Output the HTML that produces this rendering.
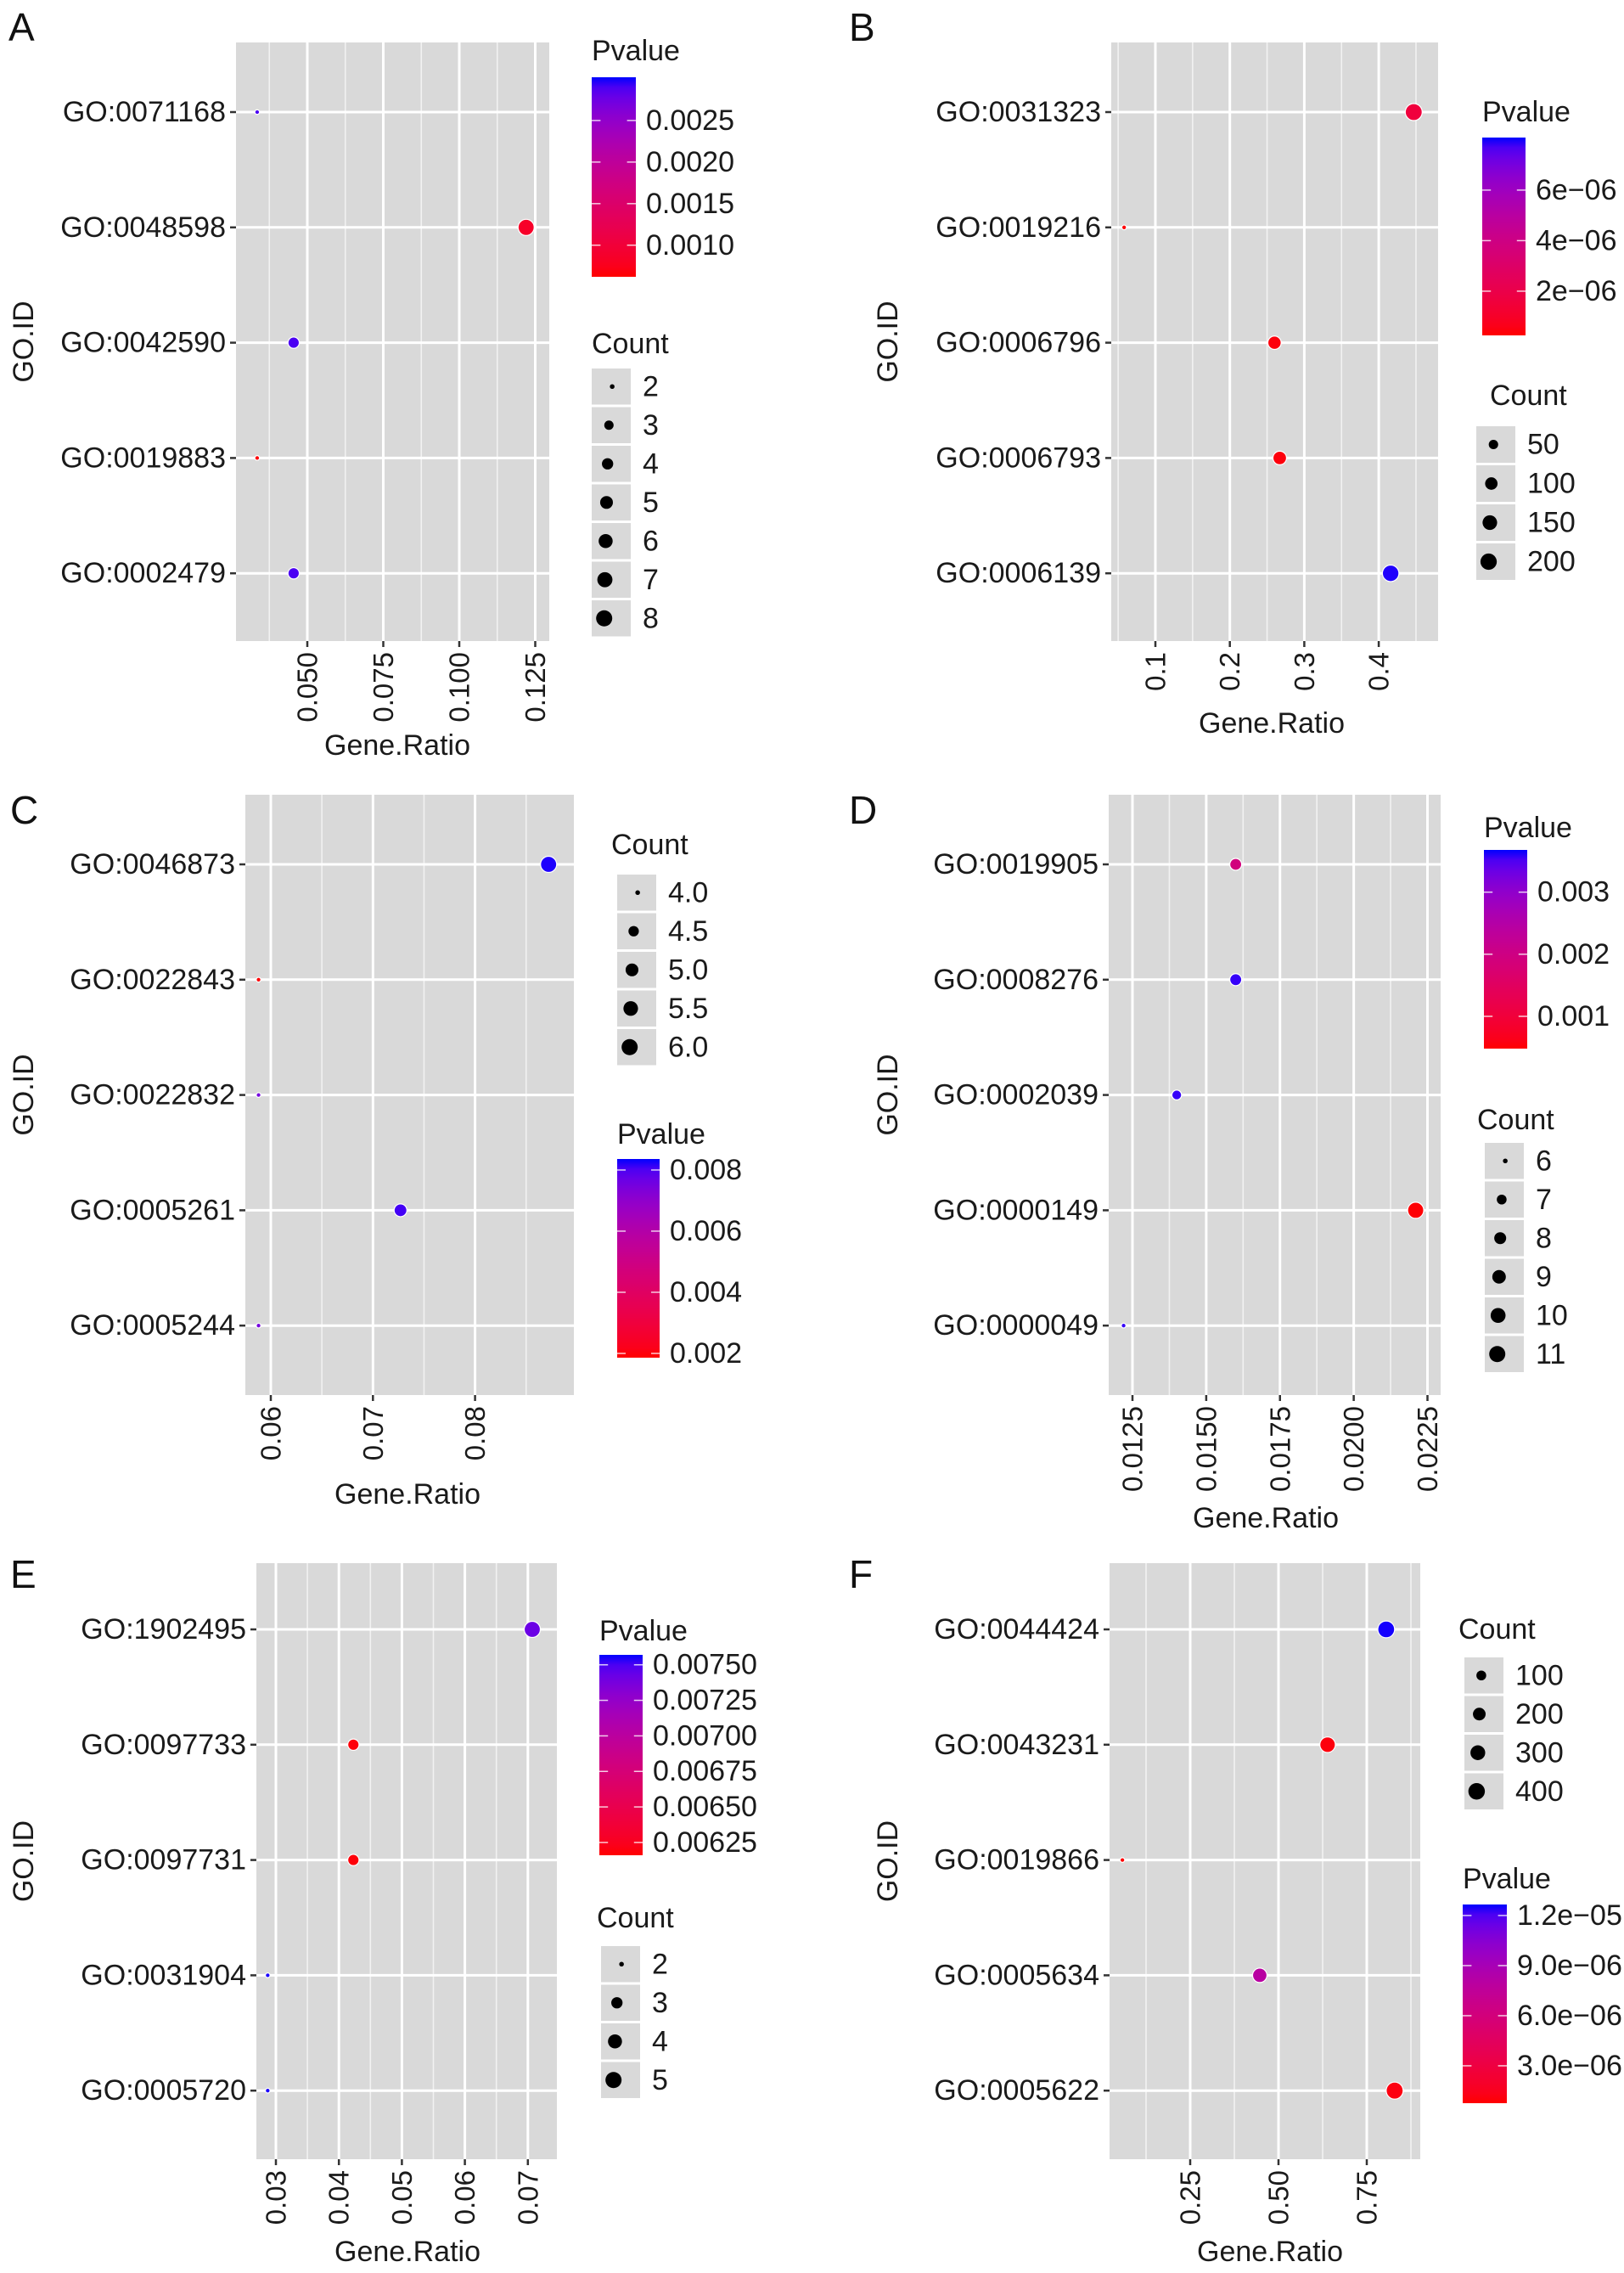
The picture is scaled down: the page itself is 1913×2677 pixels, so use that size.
<!DOCTYPE html>
<html><head><meta charset="utf-8">
<style>
html,body{margin:0;padding:0;background:#fff;}
svg{display:block;font-family:"Liberation Sans",Arial,sans-serif;}
</style></head>
<body>
<svg id="fig" width="1913" height="2677" viewBox="0 0 1913 2677" xmlns="http://www.w3.org/2000/svg"></svg>
<script>
// ---------- Panel A ----------
const A_ids = ["GO:0071168","GO:0048598","GO:0042590","GO:0019883","GO:0002479"];
const A_ratio = [0.0335,0.122,0.0455,0.0335,0.0455];
const A_count = [2,8,4,2,4];
const A_pval = [0.0029,0.00085,0.0029,0.00064,0.0029];
const A_xticks = [0.050,0.075,0.100,0.125];
const A_xtickLabels = ["0.050","0.075","0.100","0.125"];
const A_pticks = [0.0025,0.0020,0.0015,0.0010];
const A_ptickLabels = ["0.0025","0.0020","0.0015","0.0010"];
const A_cticks = [2,3,4,5,6,7,8];
const A_ctickLabels = ["2","3","4","5","6","7","8"];
// ---------- Panel B ----------
const B_ids = ["GO:0031323","GO:0019216","GO:0006796","GO:0006793","GO:0006139"];
const B_ratio = [0.447,0.058,0.260,0.267,0.416];
const B_count = [220,20,120,125,205];
const B_pval = [1.6e-6,0.3e-6,0.4e-6,0.4e-6,8.0e-6];
const B_xticks = [0.1,0.2,0.3,0.4];
const B_xtickLabels = ["0.1","0.2","0.3","0.4"];
const B_pticks = [6e-6,4e-6,2e-6];
const B_ptickLabels = ["6e\u221206","4e\u221206","2e\u221206"];
const B_cticks = [50,100,150,200];
const B_ctickLabels = ["50","100","150","200"];
// ---------- Panel C ----------
const C_ids = ["GO:0046873","GO:0022843","GO:0022832","GO:0005261","GO:0005244"];
const C_ratio = [0.0872,0.0588,0.0588,0.0727,0.0588];
const C_count = [6,4,4,5,4];
const C_pval = [0.0083,0.0019,0.0075,0.0081,0.0075];
const C_xticks = [0.06,0.07,0.08];
const C_xtickLabels = ["0.06","0.07","0.08"];
const C_pticks = [0.008,0.006,0.004,0.002];
const C_ptickLabels = ["0.008","0.006","0.004","0.002"];
const C_cticks = [4.0,4.5,5.0,5.5,6.0];
const C_ctickLabels = ["4.0","4.5","5.0","5.5","6.0"];
// ---------- Panel D ----------
const D_ids = ["GO:0019905","GO:0008276","GO:0002039","GO:0000149","GO:0000049"];
const D_ratio = [0.0160,0.0160,0.0140,0.0221,0.0122];
const D_count = [8,8,7,11,6];
const D_pval = [0.0019,0.0036,0.0036,0.0005,0.0036];
const D_xticks = [0.0125,0.0150,0.0175,0.0200,0.0225];
const D_xtickLabels = ["0.0125","0.0150","0.0175","0.0200","0.0225"];
const D_pticks = [0.003,0.002,0.001];
const D_ptickLabels = ["0.003","0.002","0.001"];
const D_cticks = [6,7,8,9,10,11];
const D_ctickLabels = ["6","7","8","9","10","11"];
// ---------- Panel E ----------
const E_ids = ["GO:1902495","GO:0097733","GO:0097731","GO:0031904","GO:0005720"];
const E_ratio = [0.0707,0.0423,0.0423,0.0287,0.0287];
const E_count = [5,3,3,2,2];
const E_pval = [0.00742,0.00618,0.00618,0.00756,0.00756];
const E_xticks = [0.03,0.04,0.05,0.06,0.07];
const E_xtickLabels = ["0.03","0.04","0.05","0.06","0.07"];
const E_pticks = [0.00750,0.00725,0.00700,0.00675,0.00650,0.00625];
const E_ptickLabels = ["0.00750","0.00725","0.00700","0.00675","0.00650","0.00625"];
const E_cticks = [2,3,4,5];
const E_ctickLabels = ["2","3","4","5"];
// ---------- Panel F ----------
const F_ids = ["GO:0044424","GO:0043231","GO:0019866","GO:0005634","GO:0005622"];
const F_ratio = [0.805,0.639,0.058,0.447,0.829];
const F_count = [420,340,30,280,430];
const F_pval = [1.26e-5,1.0e-6,0.8e-6,8.0e-6,1.1e-6];
const F_xticks = [0.25,0.50,0.75];
const F_xtickLabels = ["0.25","0.50","0.75"];
const F_pticks = [1.2e-5,9e-6,6e-6,3e-6];
const F_ptickLabels = ["1.2e\u221205","9.0e\u221206","6.0e\u221206","3.0e\u221206"];
const F_cticks = [100,200,300,400];
const F_ctickLabels = ["100","200","300","400"];

const NS="http://www.w3.org/2000/svg";
const svg=document.getElementById('fig');
function el(tag,attrs,parent,text){
  const e=document.createElementNS(NS,tag);
  for(const k in attrs) e.setAttribute(k,attrs[k]);
  if(text!==undefined) e.textContent=text;
  (parent||svg).appendChild(e);
  return e;
}
function srgb2lin(c){c/=255;return c<=0.04045?c/12.92:Math.pow((c+0.055)/1.055,2.4);}
function lin2srgb(c){c=c<=0.0031308?12.92*c:1.055*Math.pow(c,1/2.4)-0.055;return Math.round(Math.max(0,Math.min(1,c))*255);}
function rgb2lab(r,g,b){r=srgb2lin(r);g=srgb2lin(g);b=srgb2lin(b);
  let x=(0.4124*r+0.3576*g+0.1805*b)/0.95047,y=(0.2126*r+0.7152*g+0.0722*b),z=(0.0193*r+0.1192*g+0.9505*b)/1.08883;
  const f=t=>t>0.008856?Math.cbrt(t):7.787*t+16/116;x=f(x);y=f(y);z=f(z);
  return [116*y-16,500*(x-y),200*(y-z)];}
function lab2rgb(L,a,b){let y=(L+16)/116,x=a/500+y,z=y-b/200;
  const fi=t=>t*t*t>0.008856?t*t*t:(t-16/116)/7.787;x=fi(x)*0.95047;y=fi(y);z=fi(z)*1.08883;
  const r=3.2406*x-1.5372*y-0.4986*z,g=-0.9689*x+1.8758*y+0.0415*z,bb=0.0557*x-0.2040*y+1.0570*z;
  return `rgb(${lin2srgb(r)},${lin2srgb(g)},${lin2srgb(bb)})`;}
const LR=rgb2lab(255,0,0),LB=rgb2lab(0,0,255);
function colorAt(t){t=Math.max(0,Math.min(1,t));return lab2rgb(LR[0]+(LB[0]-LR[0])*t,LR[1]+(LB[1]-LR[1])*t,LR[2]+(LB[2]-LR[2])*t);}

let gid=0;
function panel(cfg){
  const g=el('g',{});
  
  
  const {L,R,T,B}=cfg.box;
  const xs=v=>cfg.x0px+(v-cfg.x0)*cfg.pxPerUnit;
  const ys=i=>cfg.rowTop+i*cfg.rowStep;
  const cmin=Math.min(...cfg.count), cmax=Math.max(...cfg.count);
  const pt=p=>(p-cfg.plim[0])/(cfg.plim[1]-cfg.plim[0]);
  const rad=c=>{const t=cmax>cmin?(c-cmin)/(cmax-cmin):1;return (cfg.dmin+(cfg.dmax-cfg.dmin)*Math.sqrt(Math.max(0,t)))/2;};
  const lt=el('text',{x:cfg.letterX,y:cfg.letterY,'font-size':46,fill:'#111'},g,cfg.letter);
  
  
  const bg=el('rect',{x:L,y:T,width:R-L,height:B-T,fill:'#d9d9d9'},g);
  
  
  const step=cfg.xticks[1]-cfg.xticks[0];
  for(let v=cfg.xticks[0]-step/2; xs(v)<R; v+=step){
    if(xs(v)>L){const m=el('line',{x1:xs(v),x2:xs(v),y1:T,y2:B,stroke:'#f2f2f2','stroke-width':1.6},g);
      
      }
  }
  cfg.xticks.forEach((v,i)=>{
    const x=xs(v);
    const gl=el('line',{x1:x,x2:x,y1:T,y2:B,stroke:'#fff','stroke-width':3},g);
    
    
    el('line',{x1:x,x2:x,y1:B,y2:B+7,stroke:'#333','stroke-width':2.5},g);
    const tl=el('text',{x:0,y:0,'font-size':33,fill:'#1a1a1a','text-anchor':'end','dominant-baseline':'central',transform:`translate(${x},${B+13}) rotate(-90)`},g,cfg.xtickLabels[i]);
    
    
  });
  cfg.ids.forEach((id,i)=>{
    const y=ys(i);
    const gl=el('line',{x1:L,x2:R,y1:y,y2:y,stroke:'#fff','stroke-width':3},g);
    
    
    el('line',{x1:L-7,x2:L,y1:y,y2:y,stroke:'#333','stroke-width':2.5},g);
    const yl=el('text',{x:L-12,y:y,'font-size':34,fill:'#1a1a1a','text-anchor':'end','dominant-baseline':'central'},g,id);
    
    
  });
  cfg.ids.forEach((id,i)=>{
    const r=rad(cfg.count[i]);
    const c=el('circle',{cx:xs(cfg.ratio[i]),cy:ys(i),r:r,fill:colorAt(pt(cfg.pval[i])),stroke:'#fff','stroke-width':1.2},g);
    
    
  });
  const xt=el('text',{x:cfg.xTitleX,y:cfg.xTitleY,'font-size':34,fill:'#1a1a1a','text-anchor':'middle','dominant-baseline':'central'},g,'Gene.Ratio');
  
  
  const ytY=(T+B)/2;
  const yt=el('text',{x:0,y:0,'font-size':34,fill:'#1a1a1a','text-anchor':'middle','dominant-baseline':'central',transform:`translate(${cfg.yTitleX},${ytY}) rotate(-90)`},g,'GO.ID');
  
  
  const pv=cfg.pLeg;
  const pg=el('g',{},g);
  
  
  const pttl=el('text',{x:pv.x,y:pv.titleY,'font-size':34,fill:'#1a1a1a','dominant-baseline':'central'},pg,'Pvalue');
  
  
  const id='grad'+(gid++);
  const defs=el('defs',{},pg);
  const lg=el('linearGradient',{id:id,x1:0,y1:1,x2:0,y2:0},defs);
  for(let k=0;k<=20;k++) el('stop',{offset:k/20,'stop-color':colorAt(k/20)},lg);
  const bar=el('rect',{x:pv.x,y:pv.top,width:pv.w,height:pv.bot-pv.top,fill:`url(#${id})`},pg);
  
  
  const cy=p=>pv.bot-pt(p)*(pv.bot-pv.top);
  cfg.pticks.forEach((p,i)=>{
    const y=cy(p);
    el('line',{x1:pv.x,x2:pv.x+pv.w/5,y1:y,y2:y,stroke:'#fff','stroke-width':1.5,opacity:0.8},pg);
    el('line',{x1:pv.x+pv.w*4/5,x2:pv.x+pv.w,y1:y,y2:y,stroke:'#fff','stroke-width':1.5,opacity:0.8},pg);
    const t=el('text',{x:pv.x+pv.w+12,y:y,'font-size':34,fill:'#1a1a1a','dominant-baseline':'central'},pg,cfg.ptickLabels[i]);
    
    
  });
  const cl=cfg.cLeg;
  const cg=el('g',{},g);
  
  
  const cttl=el('text',{x:cl.titleX,y:cl.titleY,'font-size':34,fill:'#1a1a1a','dominant-baseline':'central'},cg,'Count');
  
  
  cfg.cticks.forEach((c,i)=>{
    const ky=cl.top+i*cl.step;
    const kb=el('rect',{x:cl.x,y:ky,width:46,height:cl.step-3,fill:'#d9d9d9'},cg);
    
    
    const r=rad(c);
    el('circle',{cx:cl.x+28-1.4*r,cy:ky+(cl.step-3)/2,r:r,fill:'#000'},cg);
    const t=el('text',{x:cl.x+60,y:ky+(cl.step-3)/2,'font-size':34,fill:'#1a1a1a','dominant-baseline':'central'},cg,cfg.ctickLabels[i]);
    
    
  });
}

const topBox={T:50,B:755}, midBox={T:936,B:1643}, botBox={T:1841,B:2543};
panel({letter:'A',letterX:10,letterY:48,box:{L:278,R:647,...topBox},rowTop:132,rowStep:135.8,
  ids:A_ids,ratio:A_ratio,count:A_count,pval:A_pval,xticks:A_xticks,xtickLabels:A_xtickLabels,
  x0:0.05,x0px:362,pxPerUnit:3580,plim:[0.00062,0.00302],dmin:5.5,dmax:19,
  pticks:A_pticks,ptickLabels:A_ptickLabels,cticks:A_cticks,ctickLabels:A_ctickLabels,
  xTitleX:468,xTitleY:878,yTitleX:28,
  pLeg:{x:697,titleY:60,top:91,bot:326,w:52},cLeg:{x:697,titleX:697,titleY:405,top:434,step:45.5}});
panel({letter:'B',letterX:1000,letterY:48,box:{L:1309,R:1694,...topBox},rowTop:132,rowStep:135.8,
  ids:B_ids,ratio:B_ratio,count:B_count,pval:B_pval,xticks:B_xticks,xtickLabels:B_xtickLabels,
  x0:0.1,x0px:1361,pxPerUnit:877,plim:[0.25e-6,8.08e-6],dmin:5.5,dmax:20,
  pticks:B_pticks,ptickLabels:B_ptickLabels,cticks:B_cticks,ctickLabels:B_ctickLabels,
  xTitleX:1498,xTitleY:852,yTitleX:1046,
  pLeg:{x:1746,titleY:132,top:162,bot:395,w:51},cLeg:{x:1739,titleX:1755,titleY:466,top:502,step:46}});
panel({letter:'C',letterX:12,letterY:970,box:{L:289,R:676,...midBox},rowTop:1018,rowStep:135.8,
  ids:C_ids,ratio:C_ratio,count:C_count,pval:C_pval,xticks:C_xticks,xtickLabels:C_xtickLabels,
  x0:0.06,x0px:319,pxPerUnit:12030,plim:[0.00186,0.00836],dmin:5.5,dmax:19,
  pticks:C_pticks,ptickLabels:C_ptickLabels,cticks:C_cticks,ctickLabels:C_ctickLabels,
  xTitleX:480,xTitleY:1760,yTitleX:28,
  pLeg:{x:727,titleY:1336,top:1365,bot:1599,w:50},cLeg:{x:727,titleX:720,titleY:995,top:1030,step:45.5}});
panel({letter:'D',letterX:1000,letterY:970,box:{L:1306,R:1697,...midBox},rowTop:1018,rowStep:135.8,
  ids:D_ids,ratio:D_ratio,count:D_count,pval:D_pval,xticks:D_xticks,xtickLabels:D_xtickLabels,
  x0:0.0125,x0px:1334,pxPerUnit:34750,plim:[0.00048,0.00368],dmin:5.5,dmax:19,
  pticks:D_pticks,ptickLabels:D_ptickLabels,cticks:D_cticks,ctickLabels:D_ctickLabels,
  xTitleX:1491,xTitleY:1788,yTitleX:1046,
  pLeg:{x:1748,titleY:975,top:1001,bot:1235,w:51},cLeg:{x:1749,titleX:1740,titleY:1319,top:1346,step:45.5}});
panel({letter:'E',letterX:12,letterY:1870,box:{L:302,R:656,...botBox},rowTop:1919,rowStep:135.8,
  ids:E_ids,ratio:E_ratio,count:E_count,pval:E_pval,xticks:E_xticks,xtickLabels:E_xtickLabels,
  x0:0.03,x0px:325,pxPerUnit:7420,plim:[0.00616,0.00757],dmin:5.5,dmax:19,
  pticks:E_pticks,ptickLabels:E_ptickLabels,cticks:E_cticks,ctickLabels:E_ctickLabels,
  xTitleX:480,xTitleY:2652,yTitleX:28,
  pLeg:{x:706,titleY:1921,top:1949,bot:2185,w:51},cLeg:{x:708,titleX:703,titleY:2259,top:2292,step:45.5}});
panel({letter:'F',letterX:1000,letterY:1870,box:{L:1307,R:1673,...botBox},rowTop:1919,rowStep:135.8,
  ids:F_ids,ratio:F_ratio,count:F_count,pval:F_pval,xticks:F_xticks,xtickLabels:F_xtickLabels,
  x0:0.25,x0px:1402,pxPerUnit:416,plim:[0.76e-6,1.266e-5],dmin:5.5,dmax:20,
  pticks:F_pticks,ptickLabels:F_ptickLabels,cticks:F_cticks,ctickLabels:F_ctickLabels,
  xTitleX:1496,xTitleY:2652,yTitleX:1046,
  pLeg:{x:1723,titleY:2213,top:2243,bot:2477,w:52},cLeg:{x:1725,titleX:1718,titleY:1919,top:1952,step:45.5}});
</script>
</body></html>
